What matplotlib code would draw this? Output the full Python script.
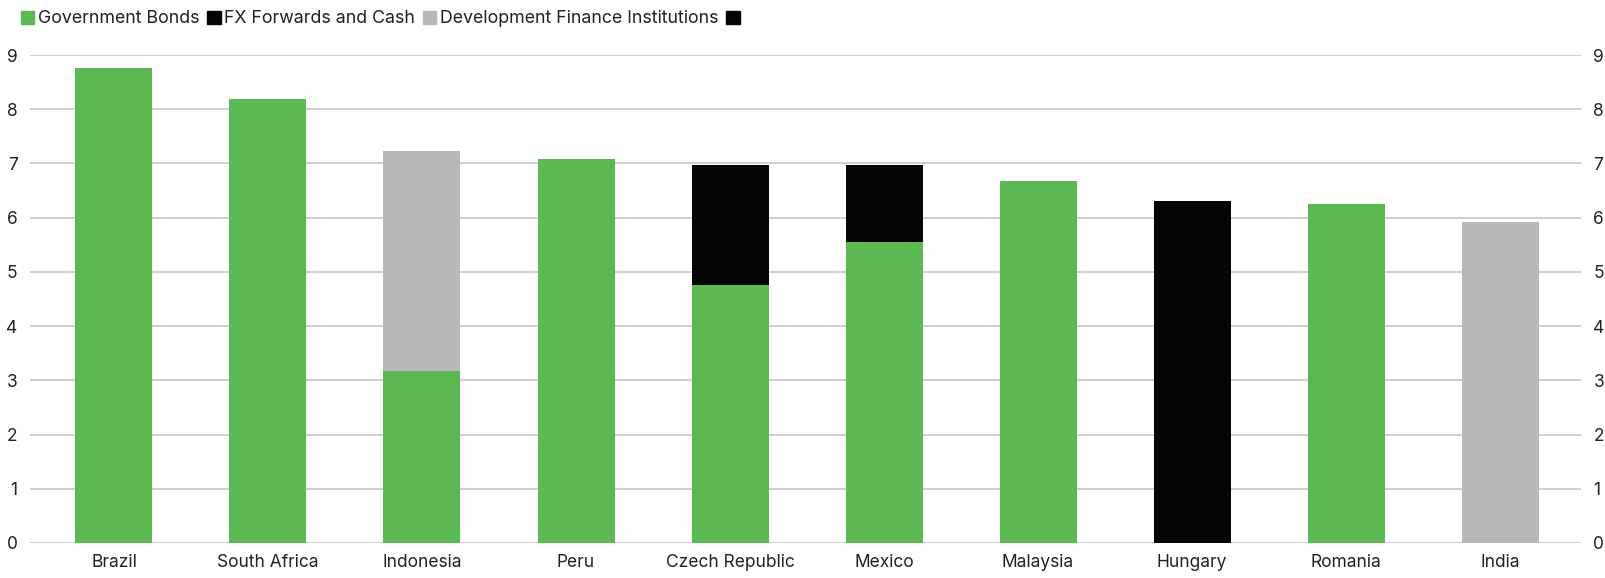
import numpy as np
import matplotlib.pyplot as plt
from matplotlib.patches import Patch

plt.rcParams['font.family'] = ['Inter', 'DejaVu Sans']

countries = ['Brazil', 'South Africa', 'Indonesia', 'Peru', 'Czech Republic',
             'Mexico', 'Malaysia', 'Hungary', 'Romania', 'India']
gov_bonds = [8.76, 8.18, 3.17, 7.08, 4.75, 5.56, 6.68, 0.0, 6.25, 0.0]
fx_cash = [0.0, 0.0, 0.0, 0.0, 2.23, 1.42, 0.0, 6.31, 0.0, 0.0]
dfi = [0.0, 0.0, 4.06, 0.0, 0.0, 0.0, 0.0, 0.0, 0.0, 5.92]
yticks = list(range(0, 10))

green = '#5bb952'
black = '#050505'
grey = '#b9b9b9'

fig = plt.figure(figsize=(16.06, 5.78), dpi=100)
ax = fig.add_axes([0.0187, 0.0606, 0.9657, 0.8442])

x = np.arange(len(countries))
w = 0.5
ax.bar(x, gov_bonds, w, color=green, zorder=3)
ax.bar(x, fx_cash, w, bottom=gov_bonds, color=black, zorder=3)
bottom2 = np.array(gov_bonds) + np.array(fx_cash)
ax.bar(x, dfi, w, bottom=bottom2, color=grey, zorder=3)

ax.set_xlim(-0.545, 9.525)
ax.set_ylim(0, 9)
ax.set_yticks(yticks)
ax.set_xticks(x)
ax.set_xticklabels(countries)
ax.grid(axis='y', color='#cfcfcf', linewidth=1.4, zorder=0)
ax.tick_params(axis='y', length=0, labelright=True, labelsize=12.5, pad=9,
               colors='#222222')
ax.tick_params(axis='x', length=0, labelsize=12.5, pad=8, colors='#222222')
for s in ax.spines.values():
    s.set_visible(False)

handles = [Patch(color=green, label='Government Bonds'),
           Patch(color=black, label='FX Forwards and Cash'),
           Patch(color=grey, label='Development Finance Institutions'),
           Patch(color=black, label='')]
fig.legend(handles=handles, loc='upper left', bbox_to_anchor=(0.003, 1.01),
           ncol=4, frameon=False, fontsize=12.8, handlelength=0.75,
           handleheight=0.75, handletextpad=0.2, columnspacing=0.45,
           labelcolor='#222222')

fig.savefig('out.png', dpi=100)
